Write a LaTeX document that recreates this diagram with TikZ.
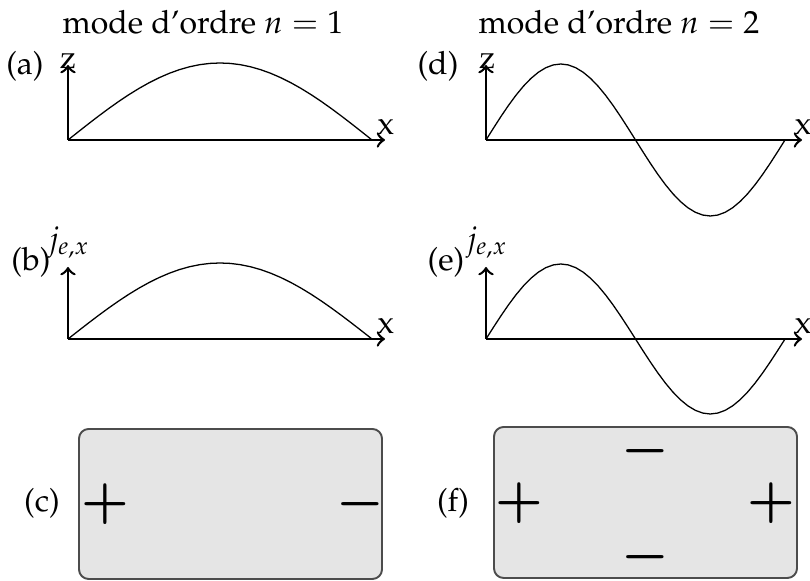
\documentclass[tikz,border=0pt]{standalone}
\usepackage[T1]{fontenc}
\usepackage{mathpazo}
\begin{document}
\begin{tikzpicture}[
    x=0.3125pt, y=-0.3125pt,
    axis/.style={draw, line width=0.8pt, ->},
    wave/.style={draw, line width=0.4pt},
    tag/.style={inner sep=0pt},
    plate/.style={draw=black!70, fill=black!10, line width=0.6pt,
                  rounded corners=3pt},
    charge/.style={inner sep=0pt, font=\fontsize{16}{19}\selectfont\boldmath},
  ]
  \useasboundingbox (0,0) rectangle (810,581);

  % titles
  \node[tag] (t1) at (203,22) {mode d'ordre $n=1$};
  \node[tag] (t2) at (619,22) {mode d'ordre $n=2$};

  % origins and axis ends
  \coordinate (oa) at (68,140);  \coordinate (za) at (68,65);  \coordinate (xa) at (385,140);
  \coordinate (od) at (486,140); \coordinate (zd) at (486,65); \coordinate (xd) at (802,140);
  \coordinate (ob) at (68,339);  \coordinate (zb) at (68,267); \coordinate (xb) at (385,339);
  \coordinate (oe) at (486,339); \coordinate (ze) at (486,267);\coordinate (xe) at (802,339);

  % (a) and (d): deformation z
  \node[tag] (la) at (25,66) {(a)};
  \draw[axis] (oa) -- (za);
  \draw[axis] (oa) -- (xa);
  \node[tag] (lza) at (68,61) {z};
  \node[tag] (lxa) at (386,127) {x};
  \draw[wave] plot[domain=0:180, samples=31] ({68+1.6889*\x}, {140-77*sin(\x)});

  \node[tag] (ld) at (438,66) {(d)};
  \draw[axis] (od) -- (zd);
  \draw[axis] (od) -- (xd);
  \node[tag] (lzd) at (487,61) {z};
  \node[tag] (lxd) at (803,127) {x};
  \draw[wave] plot[domain=0:360, samples=41] ({486+0.8306*\x}, {140-76*sin(\x)});

  % (b) and (e): current j_{e,x}
  \node[tag] (lb) at (31,262) {(b)};
  \draw[axis] (ob) -- (zb);
  \draw[axis] (ob) -- (xb);
  \node[tag] (ljb) at (69,243) {$j_{e,x}$};
  \node[tag] (lxb) at (386,326) {x};
  \draw[wave] plot[domain=0:180, samples=31] ({68+1.6889*\x}, {339-76*sin(\x)});

  \node[tag] (le) at (446,262) {(e)};
  \draw[axis] (oe) -- (ze);
  \draw[axis] (oe) -- (xe);
  \node[tag] (lje) at (487,243) {$j_{e,x}$};
  \node[tag] (lxe) at (803,326) {x};
  \draw[wave] plot[domain=0:360, samples=41] ({486+0.8306*\x}, {339-75*sin(\x)});

  % (c) and (f): charges on the plate
  \node[tag] (lc) at (42,503) {(c)};
  \draw[plate] (79,429) rectangle (382,579);
  \node[charge] (pc) at (105,504) {$+$};
  \node[charge] (mc) at (360,504) {$-$};

  \node[tag] (lf) at (453,503) {(f)};
  \draw[plate] (494,427) rectangle (797,578);
  \node[charge] (pf1) at (519,503) {$+$};
  \node[charge] (pf2) at (771,503) {$+$};
  \node[charge] (mf1) at (645,451) {$-$};
  \node[charge] (mf2) at (645,557) {$-$};
\end{tikzpicture}
\end{document}
